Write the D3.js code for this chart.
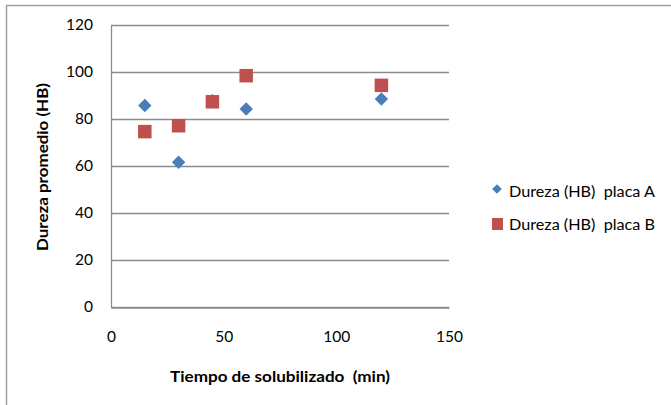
<!DOCTYPE html>
<html>
<head>
<meta charset="utf-8">
<script src="https://cdn.jsdelivr.net/npm/d3@7"></script>
<style>
  html, body { margin: 0; padding: 0; background: #fff; }
  svg { display: block; font-family: Lato, "Open Sans", sans-serif; }
  text { white-space: pre; }
</style>
</head>
<body>
<svg id="chart" width="671" height="405"></svg>
<script>
// Tiempo de solubilizado (min) and hardness readings per plate
const timesA = [15, 30, 45, 60, 120];
const durezaA = [85.6, 61.5, 87.6, 84.1, 88.4];
const timesB = [15, 30, 45, 60, 120];
const durezaB = [74.5, 77.0, 87.2, 98.3, 94.2];
const xTicks = [0, 50, 100, 150];
const yTicks = [0, 20, 40, 60, 80, 100, 120];
const seriesNames = ["Dureza (HB)  placa A", "Dureza (HB)  placa B"];
const seriesColors = ["#4a7ebb", "#c0504d"];

const svg = d3.select("#chart");

// outer chart frame
svg.append("rect")
  .attr("x", 6.5).attr("y", 5.5)
  .attr("width", 700).attr("height", 420)
  .attr("fill", "none").attr("stroke", "#a0a0a0").attr("stroke-width", 1.5);

const x = d3.scaleLinear().domain([0, 150]).range([111, 449]);
const y = d3.scaleLinear().domain([0, 120]).range([306.7, 24.7]);

// horizontal gridlines
svg.append("g").selectAll("line").data(yTicks).join("line")
  .attr("x1", x(0)).attr("x2", x(150))
  .attr("y1", d => Math.round(y(d)) + 0.5).attr("y2", d => Math.round(y(d)) + 0.5)
  .attr("stroke", "#8c8c8c").attr("stroke-width", 1.3);

// y axis
const yAxis = svg.append("g")
  .attr("transform", `translate(${x(0)},0)`)
  .call(d3.axisLeft(y).tickValues(yTicks).tickSize(0).tickPadding(18));
yAxis.select(".domain").attr("stroke", "#8c8c8c").attr("stroke-width", 1.3);
yAxis.selectAll("text").attr("font-size", 15.5).attr("fill", "#000")
  .attr("font-family", "Lato, sans-serif");

// x axis
const xAxis = svg.append("g")
  .attr("transform", `translate(0,${Math.round(y(0)) + 0.5})`)
  .call(d3.axisBottom(x).tickValues(xTicks).tickSize(0).tickPadding(23));
xAxis.select(".domain").attr("stroke", "#8c8c8c").attr("stroke-width", 1.3);
xAxis.selectAll("text").attr("font-size", 15.5).attr("fill", "#000")
  .attr("font-family", "Lato, sans-serif");

// axis titles
svg.append("text")
  .attr("transform", `translate(48,167) rotate(-90)`)
  .attr("text-anchor", "middle")
  .attr("font-size", 15).attr("font-weight", "bold")
  .attr("textLength", 168).attr("lengthAdjust", "spacingAndGlyphs")
  .text("Dureza promedio (HB)");

svg.append("text")
  .attr("x", 280).attr("y", 382)
  .attr("text-anchor", "middle")
  .attr("font-size", 15).attr("font-weight", "bold")
  .attr("textLength", 220).attr("lengthAdjust", "spacingAndGlyphs")
  .text("Tiempo de solubilizado  (min)");

// series A: diamonds
const diamond = d3.symbol().type(d3.symbolDiamond2).size(115);
svg.append("g").selectAll("path")
  .data(timesA.map((t, i) => [t, durezaA[i]]))
  .join("path")
  .attr("d", diamond)
  .attr("transform", d => `translate(${x(d[0])},${y(d[1])})`)
  .attr("fill", seriesColors[0]);

// series B: squares
const sq = 13.5;
svg.append("g").selectAll("rect")
  .data(timesB.map((t, i) => [t, durezaB[i]]))
  .join("rect")
  .attr("x", d => x(d[0]) - sq / 2).attr("y", d => y(d[1]) - sq / 2)
  .attr("width", sq).attr("height", sq)
  .attr("fill", seriesColors[1]);

// legend
const legend = svg.append("g");
legend.append("path")
  .attr("d", d3.symbol().type(d3.symbolDiamond2).size(60))
  .attr("transform", "translate(497,189)")
  .attr("fill", seriesColors[0]);
legend.append("rect")
  .attr("x", 492).attr("y", 218).attr("width", 11).attr("height", 12)
  .attr("fill", seriesColors[1]);
legend.selectAll("text").data(seriesNames).join("text")
  .attr("x", 509).attr("y", (d, i) => 197 + i * 33)
  .attr("font-size", 15.5)
  .attr("textLength", 146).attr("lengthAdjust", "spacingAndGlyphs")
  .text(d => d);
</script>
</body>
</html>
